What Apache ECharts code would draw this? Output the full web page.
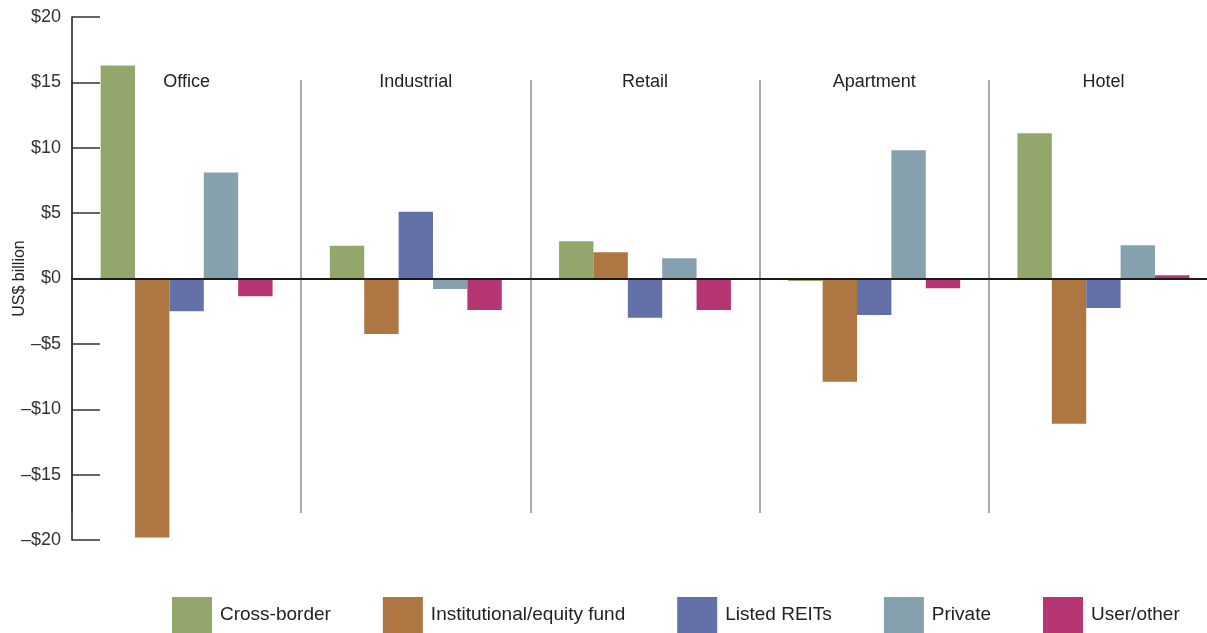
<!DOCTYPE html>
<html>
<head>
<meta charset="utf-8">
<script src="https://cdn.jsdelivr.net/npm/echarts@6/dist/echarts.min.js"></script>
<style>
  html, body { margin: 0; padding: 0; background: #fff; }
  #chart { width: 1207px; height: 633px; }
</style>
</head>
<body>
<div id="chart"></div>
<script>
const categories = ["Office", "Industrial", "Retail", "Apartment", "Hotel"];
const seriesNames = ["Cross-border", "Institutional/equity fund", "Listed REITs", "Private", "User/other"];
const crossBorder = [16.3, 2.5, 2.85, -0.2, 11.1];
const institutional = [-19.8, -4.25, 2.0, -7.9, -11.1];
const listedReits = [-2.5, 5.1, -3.0, -2.8, -2.25];
const privateVals = [8.1, -0.8, 1.55, 9.8, 2.55];
const userOther = [-1.35, -2.4, -2.4, -0.75, 0.25];
const yTicks = [-20, -15, -10, -5, 0, 5, 10, 15, 20];

const colors = ["#93a66b", "#ae7640", "#6471a8", "#85a1ae", "#b63573"];
const font = "Liberation Sans, Arial, Helvetica, sans-serif";

const chart = echarts.init(document.getElementById("chart"));

const allData = [crossBorder, institutional, listedReits, privateVals, userOther];

let option = {
  animation: false,
  color: colors,
  textStyle: { fontFamily: font },
  legend: {
    data: seriesNames,
    left: 172,
    top: 597,
    padding: 0,
    itemWidth: 40,
    itemHeight: 36,
    itemGap: 52,
    icon: "rect",
    textStyle: {
      fontSize: 19,
      color: "#222",
      fontFamily: font,
      padding: [6, 0, 0, 3],
    },
  },
  grid: [
    { left: 72, right: -11, top: 17, bottom: 93, outerBoundsMode: "none", containLabel: false },
    // second grid only for the separators + category labels
    { left: 72, right: -11, top: 80, bottom: 120, outerBoundsMode: "none", containLabel: false },
  ],
  xAxis: [
    {
      type: "category",
      data: categories,
      gridIndex: 0,
      z: 5,
      axisLine: { onZero: true, lineStyle: { color: "#1a1a1a", width: 2 } },
      axisTick: { show: false },
      axisLabel: { show: false },
      splitLine: { show: false },
    },
    {
      type: "category",
      data: categories,
      gridIndex: 1,
      position: "top",
      axisLine: { show: false },
      axisTick: { show: false },
      axisLabel: {
        margin: -11,
        fontSize: 18,
        color: "#222",
        fontFamily: font,
      },
      splitLine: {
        show: true,
        lineStyle: { color: "#aaaaaa", width: 2 },
      },
    },
  ],
  yAxis: [
    {
      type: "value",
      gridIndex: 0,
      min: yTicks[0],
      max: yTicks[yTicks.length - 1],
      interval: 5,
      z: 6,
      name: "US$ billion",
      nameLocation: "middle",
      nameRotate: 90,
      nameGap: 44,
      nameMoveOverlap: false,
      nameTextStyle: { fontSize: 16, color: "#222", fontFamily: font },
      axisLine: { show: true, lineStyle: { color: "#1a1a1a", width: 1.5 } },
      axisTick: { show: true, inside: true, length: 28, lineStyle: { color: "#333", width: 1.5 } },
      splitLine: { show: false },
      axisLabel: {
        margin: 11,
        fontSize: 18,
        color: "#333",
        fontFamily: font,
        formatter: (v) => (v < 0 ? "\u2013$" + Math.abs(v) : "$" + v),
      },
    },
    {
      type: "value",
      gridIndex: 1,
      show: false,
    },
  ],
  series: seriesNames.map((name, i) => ({
    name: name,
    type: "bar",
    xAxisIndex: 0,
    yAxisIndex: 0,
    data: allData[i],
    barGap: "0%",
    barCategoryGap: "25%",
    itemStyle: { color: colors[i] },
  })),
};

chart.setOption(option);
</script>
</body>
</html>
